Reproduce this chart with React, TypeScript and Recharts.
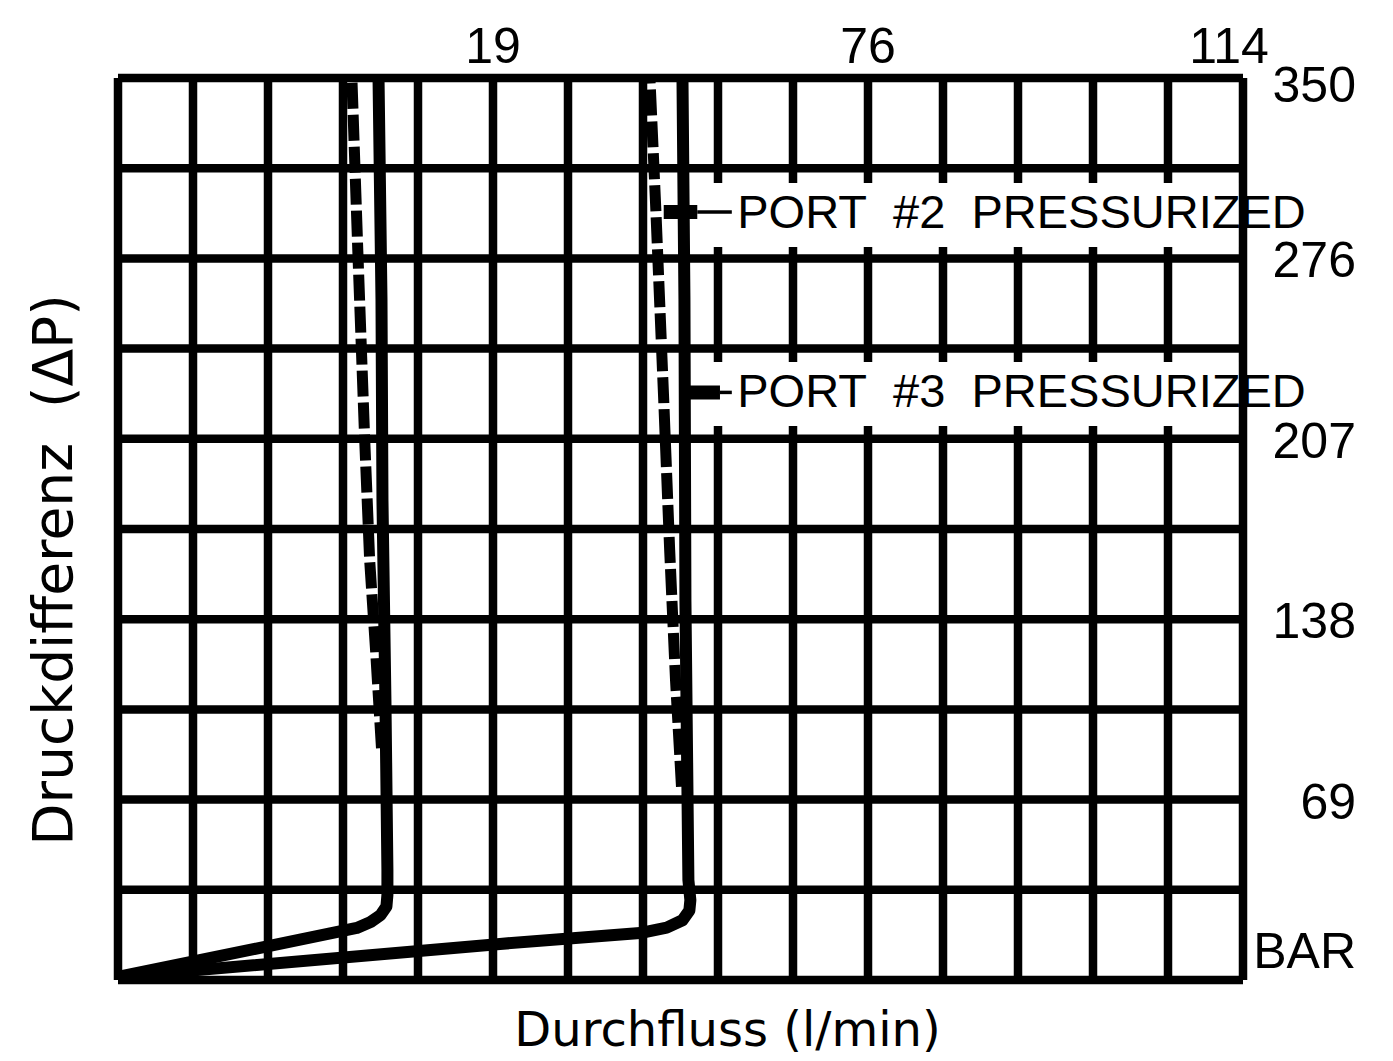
import { CartesianGrid, Label, Line, LineChart, ReferenceArea, ReferenceLine, XAxis, YAxis } from "recharts"

// flow in l/min (one grid column = 7.6 l/min), pressure in bar
const flowTicks = [0, 7.6, 15.2, 22.8, 30.4, 38, 45.6, 53.2, 60.8, 68.4, 76, 83.6, 91.2, 98.8, 106.4, 114]
const flowLabels: Record<number, string> = { 38: "19", 76: "76", 114: "114" }
const pressureTicks = [0, 35, 70, 105, 140, 175, 210, 245, 280, 315, 350]
const pressureLabels: Record<number, string> = { 0: "BAR", 70: "69", 140: "138", 210: "207", 280: "276", 350: "350" }

// small valve
const smallPort3 = [
  { flow: 0, bar: 1.2 },
  { flow: 24.2, bar: 20.2 },
  { flow: 25.6, bar: 22.5 },
  { flow: 26.6, bar: 25.2 },
  { flow: 27.2, bar: 28.5 },
  { flow: 27.3, bar: 33 },
  { flow: 27.3, bar: 42.7 },
  { flow: 27.1, bar: 108.6 },
  { flow: 26.8, bar: 186 },
  { flow: 26.7, bar: 264 },
  { flow: 26.4, bar: 350 },
]
const smallPort2 = [
  { flow: 26.7, bar: 90 },
  { flow: 26.1, bar: 128 },
  { flow: 25.5, bar: 163 },
  { flow: 25.0, bar: 209.5 },
  { flow: 24.3, bar: 283 },
  { flow: 23.7, bar: 350 },
]

// large valve
const largePort3 = [
  { flow: 0, bar: 1.2 },
  { flow: 38.7, bar: 14 },
  { flow: 52.9, bar: 18.2 },
  { flow: 55.6, bar: 20.3 },
  { flow: 57.2, bar: 23.2 },
  { flow: 57.9, bar: 27 },
  { flow: 58.0, bar: 31 },
  { flow: 57.8, bar: 38.8 },
  { flow: 57.5, bar: 147 },
  { flow: 57.4, bar: 264 },
  { flow: 57.2, bar: 350 },
]
const largePort2 = [
  { flow: 57.1, bar: 75 },
  { flow: 56.5, bar: 116 },
  { flow: 55.9, bar: 167 },
  { flow: 55.3, bar: 225 },
  { flow: 54.5, bar: 299 },
  { flow: 53.9, bar: 350 },
]

const callouts = [
  { text: "PORT\u00a0\u00a0#2\u00a0\u00a0PRESSURIZED", bar: 298, tip: 55.3, head: 58.7, tail: 62.2, top: 309.3, bottom: 284.4 },
  { text: "PORT\u00a0\u00a0#3\u00a0\u00a0PRESSURIZED", bar: 228, tip: 57.7, head: 61.0, tail: 62.2, top: 239.8, bottom: 215 },
]

const tickFont = { fontFamily: "'Liberation Sans', Arial, sans-serif", fontSize: 50, fill: "#000" }
const titleFont = { fontFamily: "'DejaVu Sans', sans-serif", fontSize: 48, fill: "#000" }

function FlowTick(props: any) {
  const { x, y, payload } = props
  const label = flowLabels[payload.value]
  if (!label) return <g />
  const shift = payload.value === 114 ? -14 : 0
  return (
    <text x={x + shift} y={y - 15} textAnchor="middle" {...tickFont}>
      {label}
    </text>
  )
}

function PressureTick(props: any) {
  const { x, y, payload } = props
  const label = pressureLabels[payload.value]
  if (!label) return <g />
  let dy = 19
  if (payload.value === 350) dy = 24
  if (payload.value === 0) dy = -12
  return (
    <text x={x + 113} y={y + dy} textAnchor="end" {...tickFont}>
      {label}
    </text>
  )
}

export default function App() {
  return (
    <div style={{ position: "absolute", left: 0, top: 0, background: "#fff" }}>
      <LineChart width={1393} height={1061} margin={{ top: 0, right: 0, bottom: 0, left: 0 }}>
        <CartesianGrid stroke="#000" strokeWidth={8.5} />
        <XAxis
          type="number"
          dataKey="flow"
          orientation="top"
          domain={[0, 114]}
          ticks={flowTicks}
          interval={0}
          height={78}
          axisLine={false}
          tickLine={false}
          tickSize={0}
          tickMargin={0}
          tick={<FlowTick />}
          allowDataOverflow
        />
        <XAxis
          xAxisId="title"
          type="number"
          orientation="bottom"
          domain={[0, 114]}
          height={81}
          axisLine={false}
          tickLine={false}
          tick={false}
        >
          <Label
            content={(p: any) => {
              const vb = p.viewBox
              return (
                <text x={vb.x + vb.width / 2 + 47} y={vb.y + 66} textAnchor="middle" {...titleFont}>
                  Durchfluss (l/min)
                </text>
              )
            }}
          />
        </XAxis>
        <YAxis
          type="number"
          orientation="right"
          domain={[0, 350]}
          ticks={pressureTicks}
          interval={0}
          width={150}
          axisLine={false}
          tickLine={false}
          tickSize={0}
          tickMargin={0}
          tick={<PressureTick />}
          allowDataOverflow
        />
        <YAxis
          yAxisId="title"
          type="number"
          orientation="left"
          domain={[0, 350]}
          width={118}
          axisLine={false}
          tickLine={false}
          tick={false}
        >
          <Label
            content={(p: any) => {
              const vb = p.viewBox
              const cx = vb.x + 72
              const cy = vb.y + vb.height / 2 + 41
              return (
                <text
                  x={cx}
                  y={cy}
                  textAnchor="middle"
                  transform={`rotate(-90, ${cx}, ${cy})`}
                  {...titleFont}
                  fontSize={55}
                >
                  Druckdifferenz{"\u00a0\u00a0"}(ΔP)
                </text>
              )
            }}
          />
        </YAxis>

        {callouts.map((c) => (
          <ReferenceArea
            key={"box" + c.text}
            x1={59}
            x2={113.5}
            y1={c.bottom}
            y2={c.top}
            fill="#fff"
            fillOpacity={1}
            stroke="none"
            label={(p: any) => {
              const vb = p.viewBox
              return (
                <text x={vb.x + 37} y={vb.y + 45} {...tickFont} fontSize={47}>
                  {c.text}
                </text>
              )
            }}
          />
        ))}

        <Line data={smallPort3} dataKey="bar" type="linear" stroke="#000" strokeWidth={12} dot={false} strokeLinejoin="round" isAnimationActive={false} />
        <Line data={smallPort2} dataKey="bar" type="linear" stroke="#000" strokeWidth={11} strokeDasharray="26 6" dot={false} isAnimationActive={false} />
        <Line data={largePort3} dataKey="bar" type="linear" stroke="#000" strokeWidth={12} dot={false} strokeLinejoin="round" isAnimationActive={false} />
        <Line data={largePort2} dataKey="bar" type="linear" stroke="#000" strokeWidth={11} strokeDasharray="26 6" dot={false} isAnimationActive={false} />

        {callouts.map((c) => (
          <ReferenceLine
            key={"tail" + c.text}
            segment={[{ x: c.head, y: c.bar }, { x: c.tail, y: c.bar }]}
            stroke="#000"
            strokeWidth={3.5}
          />
        ))}
        {callouts.map((c) => (
          <ReferenceLine
            key={"head" + c.text}
            segment={[{ x: c.tip, y: c.bar }, { x: c.head, y: c.bar }]}
            stroke="#000"
            strokeWidth={14}
          />
        ))}
      </LineChart>
    </div>
  )
}
